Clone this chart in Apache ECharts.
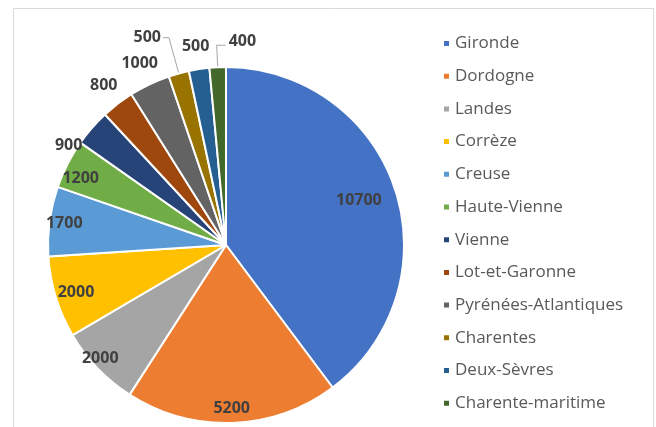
<!DOCTYPE html>
<html><head><meta charset="utf-8">
<script src="https://cdn.jsdelivr.net/npm/echarts@6/dist/echarts.min.js"></script>
<style>html,body{margin:0;padding:0;background:#fff}#c{width:656px;height:427px}</style>
</head><body><div id="c"></div><script>
const categories = ['Gironde','Dordogne','Landes','Corrèze','Creuse','Haute-Vienne','Vienne','Lot-et-Garonne','Pyrénées-Atlantiques','Charentes','Deux-Sèvres','Charente-maritime'];
const values = [10700,5200,2000,2000,1700,1200,900,800,1000,500,500,400];
const colors = ['#4472C4','#ED7D31','#A5A5A5','#FFC000','#5B9BD5','#70AD47','#264478','#9E480E','#636363','#997300','#255E91','#43682B'];

const R = 178;
const CX = 226, CY = 245;
const FONT = 'Open Sans';
const labelStyle = {color:'#404040', fontFamily:FONT, fontSize:16, fontWeight:'bold', formatter:'{c}'};
const isInside = (v) => v >= 1200;
const leaderIdx = [9, 11];       // labels drawn with a leader line
const flipRight = 11;            // leader line turning right

const mainData = categories.map((n,i) => ({
  name:n, value:values[i],
  itemStyle:{color:colors[i]},
  label:{show: leaderIdx.includes(i)},
  labelLine:{show: leaderIdx.includes(i), length: i===9 ? 37 : 22, length2: i===9 ? 6 : 9}
}));
const overlayData = (filter, extra) => categories.map((n,i) => Object.assign({
  name:n, value:values[i],
  label:{show: filter(i)}
}, extra ? extra(i) : {}));

const chart = echarts.init(document.getElementById('c'));
chart.setOption({
  animation:false,
  backgroundColor:'#fff',
  color:colors,
  graphic:[{type:'rect', shape:{x:13.5,y:8.5,width:640,height:440}, style:{fill:'none', stroke:'#d9d9d9', lineWidth:1}, silent:true, z:-1}],
  legend:{
    orient:'vertical', left:437, top:30,
    icon:'rect', itemWidth:7, itemHeight:7, itemGap:15.7,
    textStyle:{color:'#595959', fontFamily:FONT, fontSize:17, lineHeight:17, padding:[0,0,0,0]},
    data:categories
  },
  series:[
    {
      type:'pie', center:[CX,CY], radius:R, startAngle:90, clockwise:true,
      itemStyle:{borderColor:'#fff', borderWidth:2},
      label:{position:'outside', ...labelStyle, distanceToLabelLine:2},
      labelLine:{lineStyle:{color:'#a6a6a6', width:1}},
      avoidLabelOverlap:false,
      labelLayout: function (p) {
        if (p.dataIndex !== flipRight || !p.labelLinePoints) return {};
        const pts = p.labelLinePoints;
        const len2 = Math.abs(pts[2][0] - pts[1][0]);
        const p2 = [pts[1][0] + len2, pts[1][1]];
        return {x: p2[0] + 3, y: p2[1] - 4, align:'left', verticalAlign:'middle',
                labelLinePoints:[pts[0], pts[1], p2]};
      },
      data:mainData
    },
    {
      type:'pie', center:[CX,CY], radius:[R*0.8,R], startAngle:90, clockwise:true, silent:true,
      itemStyle:{color:'rgba(0,0,0,0)'},
      label:{position:'inside', ...labelStyle},
      labelLine:{show:false},
      data:overlayData(i => i>0 && isInside(values[i]),
                       i => i===5 ? {label:{show:true, offset:[0,8]}} : (i===3 ? {label:{show:true, offset:[6,0]}} : (i===2 ? {label:{show:true, offset:[-8,0]}} : {})))
    },
    {
      type:'pie', center:[CX,CY], radius:[R*0.54,R], startAngle:90, clockwise:true, silent:true,
      itemStyle:{color:'rgba(0,0,0,0)'},
      label:{position:'inside', ...labelStyle},
      labelLine:{show:false},
      data:overlayData(i => i===0)
    },
    {
      type:'pie', center:[CX,CY], radius:[R,R+40], startAngle:90, clockwise:true, silent:true,
      itemStyle:{color:'rgba(0,0,0,0)'},
      label:{position:'inside', ...labelStyle},
      labelLine:{show:false},
      data:overlayData(i => !isInside(values[i]) && !leaderIdx.includes(i),
                       i => i===6 ? {label:{show:true, offset:[-6,33]}} : {})
    }
  ]
});
</script></body></html>
